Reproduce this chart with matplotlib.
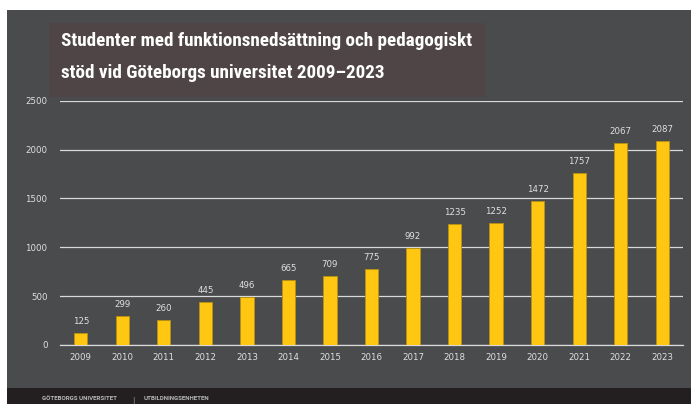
import matplotlib
matplotlib.use("Agg")
import matplotlib.pyplot as plt
from matplotlib.patches import Rectangle

years = ["2009", "2010", "2011", "2012", "2013", "2014", "2015", "2016",
         "2017", "2018", "2019", "2020", "2021", "2022", "2023"]
values = [125, 299, 260, 445, 496, 665, 709, 775, 992, 1235, 1252, 1472, 1757, 2067, 2087]
yticks = [0, 500, 1000, 1500, 2000, 2500]
title_lines = ["Studenter med funktionsnedsättning och pedagogiskt",
               "stöd vid Göteborgs universitet 2009–2023"]
footer_left = "GÖTEBORGS UNIVERSITET"
footer_right = "UTBILDNINGSENHETEN"

W, H = 691, 404
fig = plt.figure(figsize=(W / 100, H / 100), dpi=100)
fig.patch.set_facecolor("white")

def fx(px):
    return px / W

def fy(py):
    return 1 - py / H

bg = "#4a4b4d"
fig.patches.append(Rectangle((fx(7), fy(388)), fx(W) - fx(7), fy(10) - fy(388),
                             transform=fig.transFigure, facecolor=bg, edgecolor="none", zorder=0))
fig.patches.append(Rectangle((fx(7), 0), 1 - fx(7), fy(388),
                             transform=fig.transFigure, facecolor="#231f20", edgecolor="none", zorder=0))
fig.patches.append(Rectangle((fx(49), fy(97)), fx(485) - fx(49), fy(23) - fy(97),
                             transform=fig.transFigure, facecolor="#4f4546", edgecolor="none", zorder=1))

tfam = ["Roboto Condensed", "DejaVu Sans"]
fig.text(fx(61), fy(45.5), title_lines[0], color="white", fontsize=13.8, fontweight="bold",
         family=tfam, ha="left", va="baseline", zorder=2)
fig.text(fx(61), fy(78), title_lines[1], color="white", fontsize=13.8, fontweight="bold",
         family=tfam, ha="left", va="baseline", zorder=2)

ffam = ["Roboto", "DejaVu Sans"]
fig.text(fx(42), fy(398.5), footer_left, color="#b8b8b8", fontsize=4.4, fontweight="bold",
         family=ffam, ha="left", va="center")
fig.text(fx(133), fy(400), "|", color="#9a9a9a", fontsize=5, ha="center", va="center")
fig.text(fx(144), fy(398.5), footer_right, color="#b8b8b8", fontsize=4.4, fontweight="bold",
         family=ffam, ha="left", va="center")

ax = fig.add_axes([fx(60), fy(345), fx(683) - fx(60), fy(100.7) - fy(345)])
ax.set_zorder(5)
ax.set_facecolor("none")
x = list(range(len(years)))
ax.bar(x, values, width=0.32, color="#ffc612", edgecolor="#b8930f", linewidth=0.6, zorder=3)
ax.set_xlim(-0.5, len(years) - 0.5)
ax.set_ylim(0, 2500)
ax.set_yticks(yticks)
ax.set_yticklabels([str(t) for t in yticks])
ax.set_xticks(x)
ax.set_xticklabels(years)
ax.grid(axis="y", color="#d9d9d9", linewidth=0.9, zorder=1)
ax.set_axisbelow(True)
for s in ["top", "right", "left"]:
    ax.spines[s].set_visible(False)
ax.spines["bottom"].set_color("#d9d9d9")
ax.spines["bottom"].set_linewidth(0.9)
ax.tick_params(axis="both", length=0, colors="#e0e0e0", labelsize=6.2)
ax.tick_params(axis="y", pad=9)
ax.tick_params(axis="x", pad=6)
for xi, v in zip(x, values):
    ax.annotate(str(v), (xi, v), xytext=(0, 5), textcoords="offset points",
                ha="center", va="bottom", color="#e0e0e0", fontsize=6.2)

fig.savefig("out.png", dpi=100, facecolor=fig.get_facecolor())
